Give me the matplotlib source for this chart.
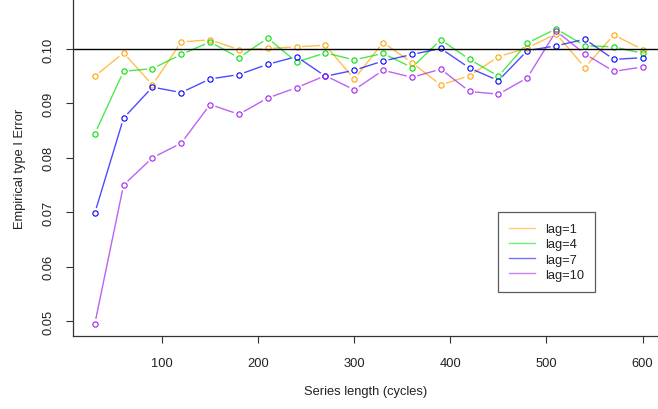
import numpy as np
import matplotlib
matplotlib.use('Agg')
import matplotlib.pyplot as plt
from matplotlib.lines import Line2D

plt.rcParams['font.family'] = ['Liberation Sans', 'DejaVu Sans']

# series length (cycles)
lengths = [30, 60, 90, 120, 150, 180, 210, 240, 270, 300,
           330, 360, 390, 420, 450, 480, 510, 540, 570, 600]

lag1 = [0.0950, 0.0993, 0.0934, 0.1013, 0.1017, 0.0999, 0.1001, 0.1004, 0.1007, 0.0945,
        0.1012, 0.0975, 0.0934, 0.0951, 0.0986, 0.1002, 0.1028, 0.0966, 0.1026, 0.0999]
lag4 = [0.0844, 0.0959, 0.0964, 0.0990, 0.1013, 0.0984, 0.1020, 0.0976, 0.0993, 0.0980,
        0.0992, 0.0966, 0.1017, 0.0981, 0.0950, 0.1011, 0.1037, 0.1006, 0.1004, 0.0992]
lag7 = [0.0698, 0.0873, 0.0930, 0.0920, 0.0945, 0.0953, 0.0972, 0.0986, 0.0950, 0.0961,
        0.0978, 0.0990, 0.1001, 0.0965, 0.0942, 0.0997, 0.1006, 0.1018, 0.0981, 0.0984]
lag10 = [0.0494, 0.0750, 0.0800, 0.0827, 0.0898, 0.0880, 0.0910, 0.0929, 0.0951, 0.0925,
         0.0961, 0.0948, 0.0963, 0.0922, 0.0917, 0.0947, 0.1033, 0.0991, 0.0959, 0.0967]

labels = ['lag=1', 'lag=4', 'lag=7', 'lag=10']
colors = ['#FFA500', '#00E000', '#0000FF', '#A020F0']
nominal = 0.10

fig = plt.figure(figsize=(6.58, 4.10), dpi=100)
ax = fig.add_axes([73 / 658, 73 / 410, 1 - 73 / 658, 1 - 73 / 410])
ax.set_xlim(7.4, 616)
ax.set_ylim(0.04724, 0.1092)

# R style type="b": segments with a gap around each point
gap = 5.5  # pixels
fig.canvas.draw()
for yv, col in zip([lag1, lag4, lag7, lag10], colors):
    pts = ax.transData.transform(np.column_stack([lengths, yv]))
    for p0, p1 in zip(pts[:-1], pts[1:]):
        d = p1 - p0
        L = np.hypot(*d)
        if L <= 2 * gap:
            continue
        u = d / L
        a = ax.transData.inverted().transform([p0 + u * gap, p1 - u * gap])
        ax.plot(a[:, 0], a[:, 1], color=col, lw=1.0, alpha=0.7,
                solid_capstyle='butt')
    ax.plot(lengths, yv, ls='none', marker='o', ms=3.8, mfc='none',
            mec=col, mew=0.8)

ax.axhline(nominal, color='black', lw=1.0)

ax.set_xticks([100, 200, 300, 400, 500, 600])
ax.set_yticks([0.05, 0.06, 0.07, 0.08, 0.09, 0.10])
ax.set_yticklabels(['0.05', '0.06', '0.07', '0.08', '0.09', '0.10'],
                   rotation=90, va='center')
ax.tick_params(axis='both', direction='out', length=5, width=0.8,
               colors='#333333', labelsize=9.3, labelcolor='#222222')
ax.tick_params(axis='x', pad=10)
ax.tick_params(axis='y', pad=8)
for s in ['top', 'right']:
    ax.spines[s].set_visible(False)
for s in ['left', 'bottom']:
    ax.spines[s].set_color('#333333')
    ax.spines[s].set_linewidth(0.9)

ax.set_xlabel('Series length (cycles)', fontsize=9.3, color='#222222', labelpad=12)
ax.set_ylabel('Empirical type I Error', fontsize=9.3, color='#222222', labelpad=12)

handles = [Line2D([0], [0], color=c, lw=1.0, alpha=0.55) for c in colors]
leg = fig.legend(handles, labels, loc='upper left',
                 bbox_to_anchor=(498 / 658, 1 - 213 / 410),
                 fontsize=9.3, frameon=True, fancybox=False,
                 handlelength=2.0, handletextpad=0.8, labelspacing=0.25,
                 borderpad=0.85, borderaxespad=0)
leg.get_frame().set_edgecolor('#333333')
leg.get_frame().set_linewidth(0.9)
for t in leg.get_texts():
    t.set_color('#222222')

fig.savefig('out.png', dpi=100)
